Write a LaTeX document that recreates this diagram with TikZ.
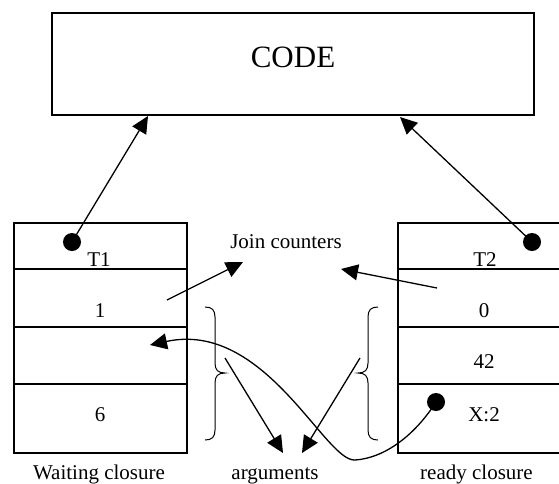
\documentclass[tikz,border=0pt]{standalone}
\usepackage{fontspec}
\setmainfont{Liberation Serif}
\usetikzlibrary{arrows.meta}
\begin{document}
\begin{tikzpicture}[x=1pt,y=-1pt,
  cell/.style={draw, line width=1.3pt, minimum width=173pt, inner sep=0pt},
  lbl/.style={font=\fontsize{21}{21}\selectfont, anchor=base, inner sep=0pt},
  arr/.style={line width=1.3pt, -{Triangle[length=17pt,width=16pt]}},
  dotp/.style={circle, fill=black, minimum size=18pt, inner sep=0pt},
  brace/.style={line width=1pt},
]
\useasboundingbox (0,0) rectangle (559,483);
\clip (0,0) rectangle (559,483);

% CODE box
\node[draw, line width=1.3pt, minimum width=482pt, minimum height=102pt, inner sep=0pt,
      text height=22pt, text depth=16pt, font=\fontsize{31}{31}\selectfont] (code) at (293,64) {CODE};

% left closure
\node[cell, minimum height=46pt] (l1) at (100.5,246) {};
\node[cell, minimum height=58pt] (l2) at (100.5,298) {};
\node[cell, minimum height=57pt] (l3) at (100.5,355.5) {};
\node[cell, minimum height=69pt] (l4) at (100.5,418.5) {};

% right closure
\node[cell, minimum height=46pt] (r1) at (484.5,246) {};
\node[cell, minimum height=58pt] (r2) at (484.5,298) {};
\node[cell, minimum height=57pt] (r3) at (484.5,355.5) {};
\node[cell, minimum height=69pt] (r4) at (484.5,418.5) {};

% texts
\node[lbl] (t1) at (99,266.5) {T1};
\node[lbl] (v1) at (100,317) {1};
\node[lbl] (v6) at (100,421) {6};
\node[lbl] (t2) at (485,266.5) {T2};
\node[lbl] (v0) at (484,317) {0};
\node[lbl] (v42) at (484,368) {42};
\node[lbl] (vx) at (484,421) {X:2};
\node[lbl] (jc) at (286,248) {Join counters};
\node[lbl] (wc) at (99,479) {Waiting closure};
\node[lbl] (ar) at (275,479) {arguments};
\node[lbl] (rc) at (476.5,479) {ready closure};

% dots
\node[dotp] (ld) at (72,242) {};
\node[dotp] (rd) at (532,242) {};
\node[dotp] (xd) at (436,402) {};

% coordinates
\coordinate (c1) at (148,116);
\coordinate (c2) at (400,117);
\coordinate (j1s) at (167,300);
\coordinate (j1e) at (243,262);
\coordinate (j2s) at (437,288);
\coordinate (j2e) at (341,269);
\coordinate (a1s) at (225,358);
\coordinate (a1e) at (283,453);
\coordinate (a2s) at (360,358);
\coordinate (a2e) at (302,453);
\coordinate (lt) at (150,345);

% arrows
\draw[arr] (ld.center) -- (c1);
\draw[arr] (rd.center) -- (c2);
\draw[arr] (j1s) -- (j1e);
\draw[arr] (j2s) -- (j2e);
\draw[arr] (a1s) -- (a1e);
\draw[arr] (a2s) -- (a2e);
\draw[arr] (xd.center) .. controls (415,435) and (385,458) .. (355,460)
  .. controls (325,462) and (265,320) .. (lt);

% braces
\draw[brace] (205,307) .. controls (212,307) and (215,310) .. (215,317) -- (215,363)
  .. controls (215,370) and (218,373) .. (225,373)
  .. controls (218,373) and (215,376) .. (215,383) -- (215,430)
  .. controls (215,437) and (212,440) .. (205,440);
\draw[brace] (378,307) .. controls (371,307) and (368,310) .. (368,317) -- (368,363)
  .. controls (368,370) and (365,373) .. (358,373)
  .. controls (365,373) and (368,376) .. (368,383) -- (368,430)
  .. controls (368,437) and (371,440) .. (378,440);
\end{tikzpicture}
\end{document}
